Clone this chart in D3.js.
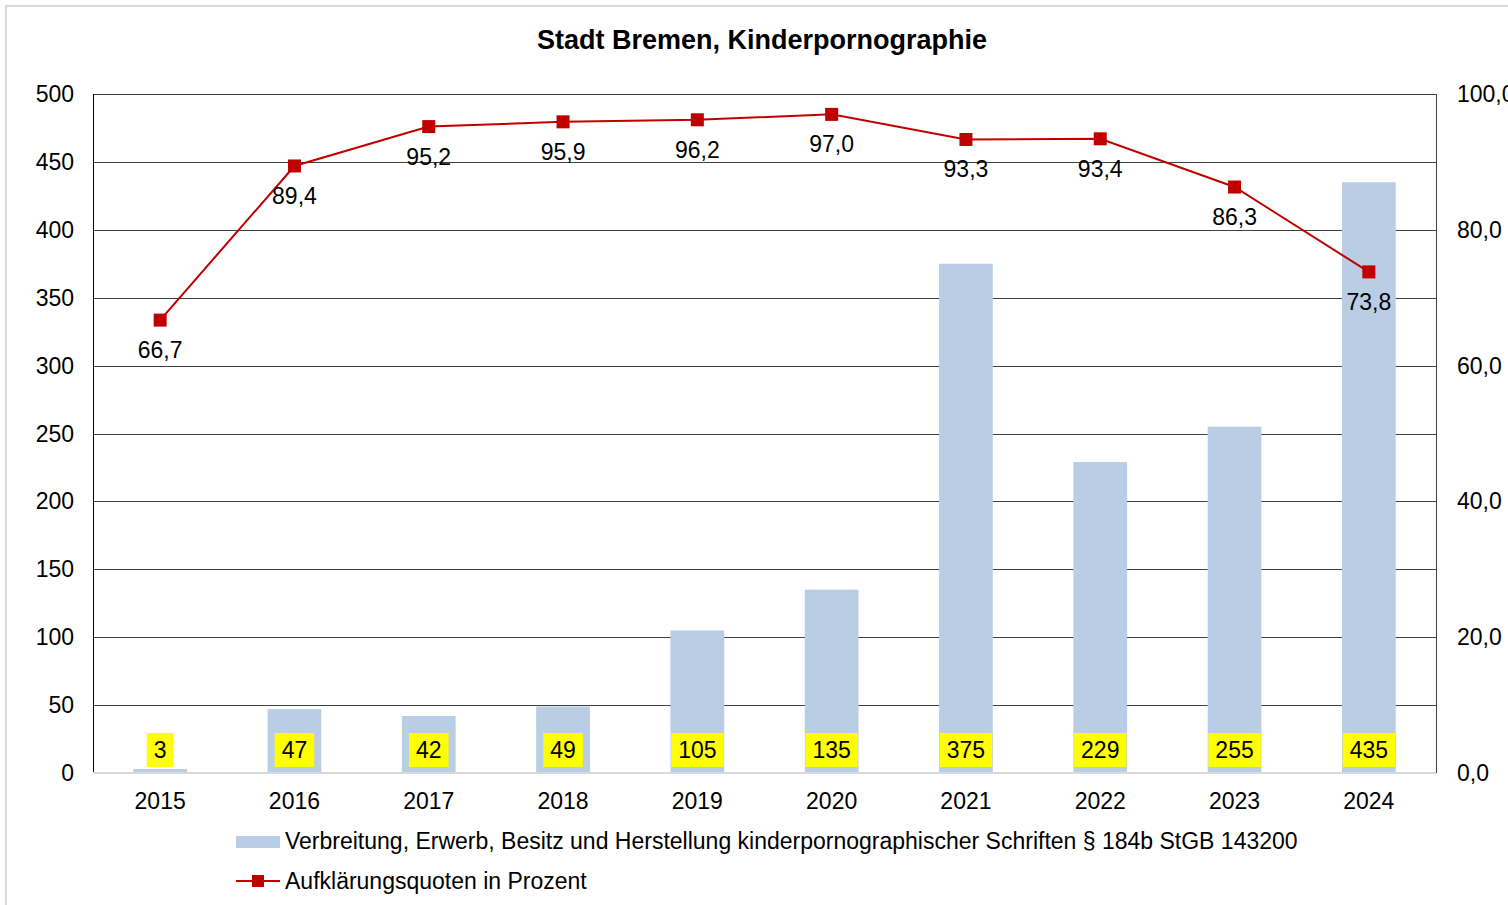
<!DOCTYPE html>
<html>
  <head>
    <meta charset="UTF-8">
    <style>
      body { margin: 0; background: #fff; overflow: hidden; }
      svg text { font-family: "Liberation Sans", Arial, sans-serif; fill: #000; }
    </style>
  </head>
  <body>
    <svg id="chart" width="1508" height="905"></svg>

    <script src="https://d3js.org/d3.v7.min.js"></script>
    <script>
      var years = ["2015", "2016", "2017", "2018", "2019", "2020", "2021", "2022", "2023", "2024"];
      var cases = [3, 47, 42, 49, 105, 135, 375, 229, 255, 435];
      var clearance = [66.7, 89.4, 95.2, 95.9, 96.2, 97.0, 93.3, 93.4, 86.3, 73.8];
      var leftTicks = [0, 50, 100, 150, 200, 250, 300, 350, 400, 450, 500];
      var rightTicks = [0, 20, 40, 60, 80, 100];
      var titleText = "Stadt Bremen, Kinderpornographie";
      var barLegend = "Verbreitung, Erwerb, Besitz und Herstellung kinderpornographischer Schriften § 184b StGB 143200";
      var lineLegend = "Aufklärungsquoten in Prozent";

      var svg = d3.select("#chart");
      var m = {left: 93, right: 1436, top: 94, bottom: 773};
      var fs = "23px";
      var comma = function(v, d) { return v.toFixed(d).replace(".", ","); };

      // outer chart border (cut off right/bottom like the screenshot)
      svg.append("rect")
          .attr("x", 6).attr("y", 6).attr("width", 1700).attr("height", 1100)
          .attr("fill", "none").attr("stroke", "#d9d9d9").attr("stroke-width", 2);

      var x = d3.scaleBand().domain(years).range([m.left, m.right]).paddingInner(0.6).paddingOuter(0.3);
      var y = d3.scaleLinear().domain([0, 500]).range([m.bottom, m.top]);
      var y2 = d3.scaleLinear().domain([0, 100]).range([m.bottom, m.top]);
      var cx = function(d) { return x(d) + x.bandwidth() / 2; };

      svg.append("text")
          .attr("x", 762).attr("y", 49)
          .attr("text-anchor", "middle")
          .style("font-size", "27px").style("font-weight", "bold")
          .text(titleText);

      // gridlines
      svg.append("g")
          .selectAll("line")
          .data(leftTicks.filter(function(t) { return t > 0; }))
          .enter().append("line")
            .attr("x1", m.left).attr("x2", m.right)
            .attr("y1", function(d) { return Math.round(y(d)) + 0.5; })
            .attr("y2", function(d) { return Math.round(y(d)) + 0.5; })
            .attr("stroke", "#404040").attr("stroke-width", 1);

      // left/right frame lines
      svg.append("line").attr("x1", m.left + 0.5).attr("x2", m.left + 0.5)
          .attr("y1", m.top).attr("y2", m.bottom).attr("stroke", "#000");
      svg.append("line").attr("x1", m.right + 0.5).attr("x2", m.right + 0.5)
          .attr("y1", m.top).attr("y2", m.bottom).attr("stroke", "#404040");

      // bars
      svg.append("g")
          .selectAll("rect")
          .data(years)
          .enter().append("rect")
            .attr("x", function(d) { return x(d); })
            .attr("width", x.bandwidth())
            .attr("y", function(d, i) { return y(cases[i]); })
            .attr("height", function(d, i) { return m.bottom - y(cases[i]); })
            .attr("fill", "#b9cde5");

      // baseline
      svg.append("line").attr("x1", m.left).attr("x2", m.right)
          .attr("y1", m.bottom).attr("y2", m.bottom)
          .attr("stroke", "#d9d9d9").attr("stroke-width", 2);

      // bar labels in yellow boxes
      var lab = svg.append("g").selectAll("g")
          .data(years)
          .enter().append("g");
      lab.append("text")
          .attr("x", function(d) { return cx(d); })
          .attr("y", 758)
          .attr("text-anchor", "middle")
          .style("font-size", fs)
          .text(function(d, i) { return cases[i]; })
          .each(function() {
            var b = this.getBBox();
            d3.select(this.parentNode).insert("rect", "text")
                .attr("x", b.x - 7).attr("width", b.width + 14)
                .attr("y", 733).attr("height", 34)
                .attr("fill", "#ffff00");
          });

      // line
      var line = d3.line()
          .x(function(d, i) { return cx(years[i]); })
          .y(function(d) { return y2(d); });
      svg.append("path")
          .datum(clearance)
          .attr("d", line)
          .attr("fill", "none")
          .attr("stroke", "#c00000")
          .attr("stroke-width", 2);
      svg.append("g")
          .selectAll("rect")
          .data(clearance)
          .enter().append("rect")
            .attr("x", function(d, i) { return cx(years[i]) - 6.5; })
            .attr("y", function(d) { return y2(d) - 6.5; })
            .attr("width", 13).attr("height", 13)
            .attr("fill", "#c00000");
      svg.append("g")
          .selectAll("text")
          .data(clearance)
          .enter().append("text")
            .attr("x", function(d, i) { return cx(years[i]); })
            .attr("y", function(d) { return y2(d) + 38; })
            .attr("text-anchor", "middle")
            .style("font-size", fs)
            .text(function(d) { return comma(d, 1); });

      // axes labels
      svg.append("g")
          .selectAll("text")
          .data(leftTicks)
          .enter().append("text")
            .attr("x", 74)
            .attr("y", function(d) { return y(d) + 8; })
            .attr("text-anchor", "end")
            .style("font-size", fs)
            .text(function(d) { return d; });
      svg.append("g")
          .selectAll("text")
          .data(rightTicks)
          .enter().append("text")
            .attr("x", 1457)
            .attr("y", function(d) { return y2(d) + 8; })
            .style("font-size", fs)
            .text(function(d) { return comma(d, 1); });
      svg.append("g")
          .selectAll("text")
          .data(years)
          .enter().append("text")
            .attr("x", function(d) { return cx(d); })
            .attr("y", 809)
            .attr("text-anchor", "middle")
            .style("font-size", fs)
            .text(function(d) { return d; });

      // legend
      svg.append("rect").attr("x", 236).attr("y", 836).attr("width", 44).attr("height", 12)
          .attr("fill", "#b9cde5");
      svg.append("text").attr("x", 285).attr("y", 849).style("font-size", fs).text(barLegend);
      svg.append("line").attr("x1", 236).attr("x2", 280).attr("y1", 881).attr("y2", 881)
          .attr("stroke", "#c00000").attr("stroke-width", 2);
      svg.append("rect").attr("x", 252).attr("y", 875).attr("width", 12).attr("height", 12)
          .attr("fill", "#c00000");
      svg.append("text").attr("x", 285).attr("y", 889).style("font-size", fs).text(lineLegend);
    </script>
  </body>
</html>
